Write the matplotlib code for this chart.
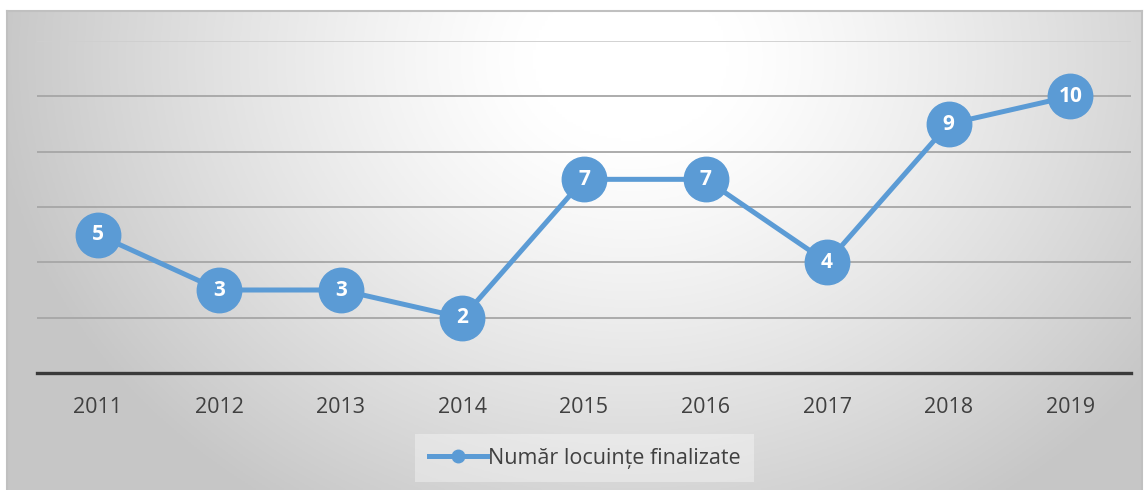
import numpy as np
import matplotlib
matplotlib.use("Agg")
import matplotlib.pyplot as plt

# values
years = ["2011", "2012", "2013", "2014", "2015", "2016", "2017", "2018", "2019"]
finished = [5, 3, 3, 2, 7, 7, 4, 9, 10]
series_name = "Număr locuințe finalizate"

blue = "#5b9bd5"
W, H = 1145, 490

plt.rcParams['font.family'] = ['Open Sans', 'DejaVu Sans']

fig = plt.figure(figsize=(W / 100, H / 100), dpi=100)
fig.patch.set_facecolor("white")

# chart frame with the soft radial gradient
bg = fig.add_axes([7 / W, 0, (1142 - 7) / W, (H - 11) / H], zorder=0)
gx, gy = np.meshgrid(np.linspace(0, 1, 400), np.linspace(0, 1, 200))
d = np.sqrt(((gx - 0.55) / 0.58) ** 2 + ((gy - 0.9) / 1.15) ** 2)
shade = 1 - 0.22 * np.clip((d - 0.15) / 0.82, 0, 1) ** 1.2
bg.imshow(np.dstack([shade] * 3), origin="lower", aspect="auto", extent=(0, 1, 0, 1))
bg.set_xticks([])
bg.set_yticks([])
for side in ["top", "left", "right"]:
    bg.spines[side].set_color("#c0c0c0")
    bg.spines[side].set_linewidth(1.5)
bg.spines["bottom"].set_visible(False)

# plot area
ax = fig.add_axes([37 / W, (H - 373) / H, (1131 - 37) / W, (373 - 41) / H], zorder=1)
ax.patch.set_alpha(0)
x = np.arange(len(years))
ax.plot(x, finished, color=blue, lw=3.6, marker="o", markersize=32,
        markerfacecolor=blue, markeredgecolor=blue, label=series_name, zorder=3)
for xi, v in zip(x, finished):
    ax.text(xi, v, str(v), color="white", fontsize=15, fontweight="bold",
            ha="center", va="center", zorder=4)

ax.set_xlim(-0.5, len(years) - 0.5)
ax.set_ylim(0, 12)
ax.set_yticks(np.arange(0, 13, 2))
ax.set_yticklabels([])
ax.tick_params(axis="y", length=0)
ax.set_xticks(x)
ax.set_xticklabels(years)
ax.tick_params(axis="x", length=0, pad=17, labelsize=15.5, labelcolor="#404040")
ax.grid(axis="y", color="#a6a6a6", lw=1.3)
ax.set_axisbelow(True)
ax.get_ygridlines()[-1].set_color("#cfcfcf")
ax.get_ygridlines()[0].set_visible(False)
for side in ["top", "left", "right"]:
    ax.spines[side].set_visible(False)
ax.spines["bottom"].set_color("#3a3a3a")
ax.spines["bottom"].set_linewidth(2.4)

leg = fig.legend(loc="center", bbox_to_anchor=(584.5 / W, 32 / H), fontsize=15.5,
                 frameon=True, handlelength=2.7, handletextpad=0.05,
                 borderpad=0.65, borderaxespad=0, fancybox=False, labelcolor="#404040")
leg.get_frame().set_facecolor("white")
leg.get_frame().set_alpha(0.35)
leg.get_frame().set_linewidth(0)
leg.legend_handles[0].set_markersize(9)

fig.savefig("out.png", dpi=100)
